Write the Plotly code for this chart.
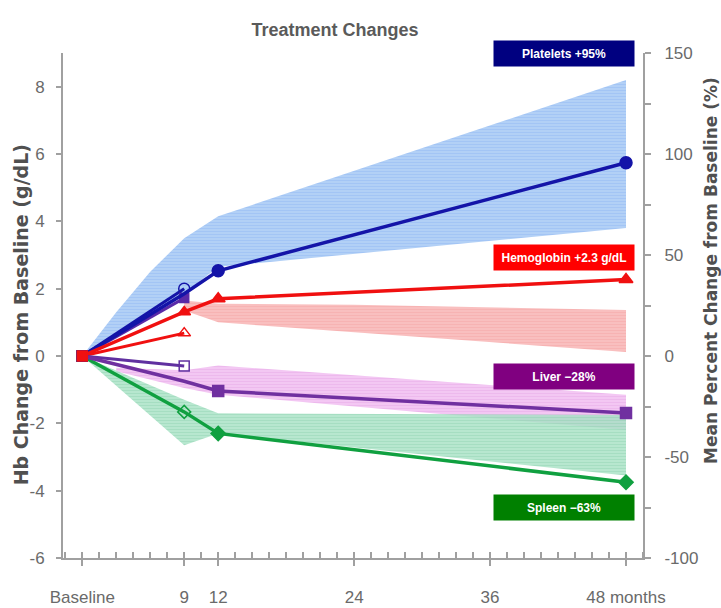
import plotly.graph_objects as go

# ---------------- data ----------------
months = [0, 9, 12, 48]
tick_vals = [0, 9, 12, 24, 36, 48]
tick_text = ["Baseline", "9", "12", "24", "36", "48 months"]
hb_ticks = [-6, -4, -2, 0, 2, 4, 6, 8]
hb_tick_text = ["-6", "-4", "-2", "0", "2", "4", "6", "8"]
pct_ticks = [-100, -50, 0, 50, 100, 150]
pct_tick_text = ["-100", "-50", "0", "50", "100", "150"]

# Platelets (plotted on Hb scale)
plt_main = [0, 1.85, 2.53, 5.74]
plt_open_x = [0, 9]
plt_open_y = [0, 2.0]
plt_alt_y = [0, 1.72]
plt_band_x = [0, 3, 6, 9, 12, 48]
plt_band_hi = [0, 1.3, 2.5, 3.5, 4.15, 8.2]
plt_band_lo = [0, 0.6, 1.2, 1.85, 2.65, 3.8]

# Hemoglobin
hb_main = [0, 1.31, 1.7, 2.27]
hb_open_y = [0, 0.68]
hb_band_x = [9, 12, 24, 48]
hb_band_hi = [1.65, 1.55, 1.52, 1.37]
hb_band_lo = [1.35, 1.0, 0.72, 0.12]

# Liver
liver_main = [0, -0.75, -1.04, -1.69]
liver_open_y = [0, -0.3]
liver_band_x = [3, 9, 12, 48]
liver_band_hi = [-0.35, -0.42, -0.28, -1.15]
liver_band_lo = [-0.45, -0.95, -1.15, -2.2]

# Spleen
spleen_main = [0, -1.66, -2.3, -3.75]
spleen_band_x = [0, 9, 12, 48]
spleen_band_hi = [0, -1.3, -1.7, -1.75]
spleen_band_lo = [0, -2.65, -2.3, -3.55]

labels = ["Platelets +95%", "Hemoglobin +2.3 g/dL", "Liver \u221228%", "Spleen \u221263%"]
label_pct = [150, 49, -10, -75]
label_colors = ["#000080", "#FF0000", "#800080", "#008000"]

BLUE = "#1414A8"
RED = "#F01010"
PURPLE = "#7030A0"
GREEN = "#10A040"

fig = go.Figure()


def band(x, hi, lo, fill, fg):
    fig.add_trace(go.Scatter(
        x=list(x) + list(x)[::-1], y=list(hi) + list(lo)[::-1],
        fill="toself", fillcolor=fill, mode="lines", line=dict(width=0),
        fillpattern=dict(shape="-", fgcolor=fg, bgcolor=fill, size=3, solidity=0.3),
        hoverinfo="skip", showlegend=False))


band(plt_band_x, plt_band_hi, plt_band_lo, "rgba(165,200,245,0.85)", "rgba(140,180,240,0.9)")
band(hb_band_x, hb_band_hi, hb_band_lo, "rgba(248,180,180,0.85)", "rgba(240,160,160,0.9)")
band(liver_band_x, liver_band_hi, liver_band_lo, "rgba(240,185,240,0.8)", "rgba(230,165,230,0.9)")
band(spleen_band_x, spleen_band_hi, spleen_band_lo, "rgba(165,225,195,0.8)", "rgba(140,210,175,0.9)")


def line(x, y, color, symbols, sizes, width=3.5):
    fig.add_trace(go.Scatter(
        x=x, y=y, mode="lines+markers",
        line=dict(color=color, width=width),
        marker=dict(symbol=symbols, size=sizes, color=color, opacity=1,
                    line=dict(color=color, width=1.5)),
        showlegend=False, hoverinfo="skip"))


# open-marker lines (9 months)
line(plt_open_x, plt_open_y, BLUE, ["square", "circle-open"], [10, 11], 3)
line(plt_open_x, hb_open_y, RED, ["square", "triangle-up-open"], [10, 11], 3)
line(plt_open_x, liver_open_y, "#6030A0", ["square", "square-open"], [10, 10], 3)
line(plt_open_x, plt_alt_y, "#5A2AA8", ["square", "square"], [10, 9], 3)

# main lines
line(months, spleen_main, GREEN, ["square", "diamond-open", "diamond", "diamond"], [10, 10, 11, 11])
line(months, liver_main, PURPLE, ["square", "square", "square", "square"], [10, 0, 11, 11])
line(months, plt_main, BLUE, ["square", "circle", "circle", "circle"], [10, 0, 12, 12])
line(months, hb_main, RED, ["square", "triangle-up", "triangle-up", "triangle-up"], [10, 11, 12, 12])

# secondary-axis dummy trace
fig.add_trace(go.Scatter(x=[0], y=[0], yaxis="y2", mode="markers",
                         marker=dict(size=0, opacity=0), showlegend=False, hoverinfo="skip"))

for txt, yv, col in zip(labels, label_pct, label_colors):
    fig.add_annotation(
        x=42.5, y=yv, xref="x", yref="y2", text=f"<b>{txt}</b>", showarrow=False,
        bgcolor=col, font=dict(color="white", size=12, family="Liberation Sans Narrow, Arial Narrow, Liberation Sans"),
        width=136, height=21, borderpad=2, xanchor="center", yanchor="middle")

TITLEFONT = dict(family="DejaVu Sans", color="#505050")
fig.add_annotation(x=-0.072, y=0.481, xref="paper", yref="paper", textangle=-90, showarrow=False,
                   text="<b>Hb Change from Baseline (g/dL)</b>", font=dict(TITLEFONT, size=19),
                   xanchor="center", yanchor="middle")
fig.add_annotation(x=1.117, y=0.57, xref="paper", yref="paper", textangle=-90, showarrow=False,
                   text="<b>Mean Percent Change from Baseline (%)</b>", font=dict(TITLEFONT, size=17),
                   xanchor="center", yanchor="middle")

AX = "#A0A0A0"
TICKFONT = dict(family="Liberation Sans Narrow, Arial Narrow, Liberation Sans", size=17, color="#6A6A6A")

fig.update_layout(
    width=721, height=608,
    margin=dict(l=63, r=78, t=53, b=50, autoexpand=False),
    paper_bgcolor="white", plot_bgcolor="white",
    title=dict(text="<b>Treatment Changes</b>", x=0.469, xref="paper", xanchor="center",
               y=0.951, yanchor="middle",
               font=dict(family="Liberation Sans Narrow, Arial Narrow, Liberation Sans", size=18, color="#5A5A5A")),
    xaxis=dict(range=[-1.7, 49.5], tickvals=tick_vals, ticktext=tick_text, showgrid=False,
               zeroline=False, showline=True, linecolor=AX, linewidth=2, automargin=False,
               ticks="outside", ticklen=6, tickcolor=AX, tickwidth=1.5,
               ticklabelstandoff=17, tickfont=TICKFONT,
               minor=dict(ticks="inside", ticklen=6, tickcolor=AX, tickwidth=1.5, dtick=1.5, tick0=0)),
    yaxis=dict(range=[-6, 9], tickvals=hb_ticks, ticktext=hb_tick_text, showgrid=False, zeroline=False,
               showline=True, automargin=False,
               linecolor=AX, linewidth=2, ticks="outside", ticklen=5, tickcolor=AX, tickwidth=1.5,
               tickfont=TICKFONT, ticklabelstandoff=8),
    yaxis2=dict(range=[-100, 150], tickvals=pct_ticks, ticktext=pct_tick_text, overlaying="y", side="right",
                showgrid=False, automargin=False,
                zeroline=False, showline=True, linecolor=AX, linewidth=2,
                ticks="outside", ticklen=6, tickcolor=AX, tickwidth=1.5,
                tickfont=TICKFONT, ticklabelstandoff=10,
                minor=dict(ticks="outside", ticklen=6, tickcolor=AX, dtick=25, tick0=0)),
)

fig.write_html("out.html", config={"displayModeBar": False},
               post_script="document.body.style.margin='0px';document.body.style.padding='0px';")
